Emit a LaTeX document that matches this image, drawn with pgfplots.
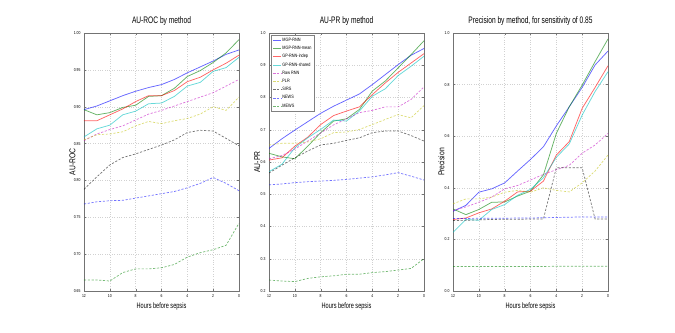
\documentclass[border=0pt]{standalone}
\usepackage{fontspec}
\setmainfont{Liberation Sans}[FakeStretch=0.8]
\newfontfamily\condfont{Liberation Sans}[FakeStretch=0.7]
\usepackage{pgfplots}
\pgfplotsset{compat=1.18}
\usepackage{pgfplotstable}

% columns: hours, MGP-RNN, MGP-RNN-mean, GP-RNN-indep, GP-RNN-shared, Raw RNN, PLR, SIRS, NEWS, MEWS
\pgfplotstableread{
h mgp mean indep shared raw plr sirs news mews
12 0.896 0.896 0.881 0.859 0.854 0.855 0.788 0.768 0.665
11 0.901 0.889 0.881 0.870 0.863 0.862 0.805 0.771 0.665
10 0.908 0.892 0.889 0.875 0.869 0.863 0.821 0.7725 0.6635
9 0.915 0.899 0.897 0.889 0.874 0.866 0.831 0.773 0.675
8 0.921 0.902 0.907 0.894 0.882 0.874 0.836 0.776 0.680
7 0.926 0.914 0.915 0.904 0.890 0.880 0.842 0.779 0.680
6 0.930 0.915 0.915 0.905 0.895 0.877 0.848 0.782 0.6815
5 0.937 0.925 0.922 0.914 0.901 0.881 0.855 0.785 0.686
4 0.946 0.941 0.934 0.928 0.907 0.884 0.865 0.790 0.696
3 0.954 0.949 0.940 0.933 0.913 0.890 0.868 0.796 0.702
2 0.962 0.960 0.950 0.948 0.919 0.900 0.867 0.804 0.706
1 0.971 0.973 0.959 0.953 0.928 0.895 0.857 0.796 0.712
0 0.977 0.991 0.970 0.967 0.937 0.913 0.847 0.786 0.742
}\rocdata

\pgfplotstableread{
h mgp mean indep shared raw plr sirs news mews
12 0.642 0.627 0.606 0.570 0.610 0.653 0.566 0.529 0.234
11 0.672 0.616 0.613 0.593 0.620 0.658 0.590 0.532 0.231
10 0.699 0.610 0.649 0.644 0.640 0.658 0.613 0.536 0.229
9 0.725 0.649 0.677 0.675 0.665 0.662 0.634 0.539 0.239
8 0.751 0.691 0.716 0.701 0.690 0.672 0.653 0.541 0.244
7 0.773 0.727 0.744 0.730 0.715 0.691 0.658 0.543 0.247
6 0.792 0.734 0.758 0.727 0.734 0.693 0.667 0.546 0.252
5 0.811 0.763 0.771 0.758 0.753 0.701 0.675 0.550 0.252
4 0.840 0.820 0.809 0.804 0.760 0.716 0.691 0.554 0.257
3 0.871 0.851 0.845 0.827 0.771 0.732 0.696 0.560 0.260
2 0.902 0.892 0.878 0.868 0.771 0.747 0.696 0.567 0.265
1 0.931 0.933 0.907 0.897 0.794 0.737 0.682 0.556 0.270
0 0.952 0.976 0.936 0.928 0.833 0.775 0.665 0.544 0.300
}\prdata

\pgfplotstableread{
h mgp mean indep shared raw plr sirs news mews
12 0.309 0.318 0.277 0.227 0.312 0.338 0.273 0.281 0.095
11 0.332 0.296 0.283 0.277 0.326 0.357 0.274 0.281 0.095
10 0.383 0.316 0.303 0.274 0.344 0.357 0.276 0.282 0.095
9 0.396 0.344 0.318 0.316 0.364 0.364 0.277 0.282 0.095
8 0.419 0.345 0.348 0.335 0.396 0.383 0.278 0.282 0.095
7 0.465 0.368 0.384 0.371 0.409 0.390 0.278 0.283 0.095
6 0.510 0.387 0.387 0.394 0.430 0.383 0.279 0.283 0.095
5 0.559 0.450 0.426 0.439 0.452 0.400 0.279 0.284 0.095
4 0.640 0.611 0.527 0.518 0.470 0.390 0.478 0.285 0.096
3 0.714 0.714 0.579 0.570 0.487 0.384 0.478 0.286 0.096
2 0.789 0.798 0.708 0.682 0.534 0.419 0.478 0.287 0.096
1 0.876 0.889 0.789 0.773 0.566 0.465 0.279 0.287 0.096
0 0.930 0.977 0.873 0.850 0.611 0.527 0.279 0.287 0.096
}\precdata

\definecolor{cb}{rgb}{0,0,1}
\definecolor{cg}{rgb}{0,0.5,0}
\definecolor{cr}{rgb}{1,0,0}
\definecolor{cc}{rgb}{0,0.75,0.75}
\definecolor{cm}{rgb}{0.75,0,0.75}
\definecolor{cy}{rgb}{0.75,0.75,0}
\definecolor{ck}{rgb}{0,0,0}

\pgfplotsset{
  panel/.style={
    scale only axis, width=155bp, height=258bp, anchor=south west,
    xmin=0, xmax=12, x dir=reverse, xtick={0,2,...,12},
    grid=major, major grid style={dotted, black!18},
    axis line style={black!55, line width=0.9pt},
    tick style={black!55}, major tick length=2bp, tick align=inside,
    ticklabel style={font=\fontsize{4.3}{5}\selectfont},
    /pgf/number format/assume math mode=true,
    title style={font=\condfont\fontsize{9.5}{11}\selectfont, inner sep=1.5bp},
    xlabel style={font=\condfont\fontsize{8}{9}\selectfont, yshift=2bp},
    ylabel style={font=\fontsize{8.5}{9}\selectfont, at={(axis description cs:-0.075,0.5)}, anchor=center},
    xlabel={Hours before sepsis},
  },
  sol/.style={color=#1, opacity=0.6, line width=0.75pt},
  dsh/.style={color=#1, opacity=0.55, line width=0.7pt, dash pattern=on 2.2bp off 1.6bp},
}

\newcommand{\allseries}[1]{%
  \addplot[sol=cb] table[x=h,y=mgp]{#1};
  \addplot[sol=cg] table[x=h,y=mean]{#1};
  \addplot[sol=cr] table[x=h,y=indep]{#1};
  \addplot[sol=cc] table[x=h,y=shared]{#1};
  \addplot[dsh=cm] table[x=h,y=raw]{#1};
  \addplot[dsh=cy] table[x=h,y=plr]{#1};
  \addplot[dsh=ck] table[x=h,y=sirs]{#1};
  \addplot[dsh=cb] table[x=h,y=news]{#1};
  \addplot[dsh=cg] table[x=h,y=mews]{#1};
}

\begin{document}
\begin{tikzpicture}
\useasboundingbox (0,0) rectangle (675bp,333bp);

\begin{axis}[panel, at={(84bp,42bp)}, title={AU-ROC by method}, ylabel={AU-ROC},
  ymin=0.65, ymax=1.0, ytick={0.65,0.70,...,1.001},
  yticklabel style={/pgf/number format/.cd, fixed, fixed zerofill, precision=2}]
\allseries{\rocdata}
\end{axis}

\begin{axis}[panel, at={(269bp,42bp)}, title={AU-PR by method}, ylabel={AU-PR},
  ymin=0.2, ymax=1.0, ytick={0.2,0.3,...,1.001},
  yticklabel style={/pgf/number format/.cd, fixed, fixed zerofill, precision=1},
  legend style={at={(0.012,0.992)}, anchor=north west, draw=black!50,
    font=\fontsize{4.8}{5.4}\selectfont, row sep=2.2bp, inner sep=2bp,
    nodes={inner sep=0.6bp}},
  legend cell align=left,
  legend image code/.code={\draw[#1] (0bp,0bp) -- (8bp,0bp);}]
\allseries{\prdata}
\legend{MGP-RNN, MGP-RNN-mean, GP-RNN-indep, GP-RNN-shared, Raw RNN, PLR, SIRS, NEWS, MEWS}
\end{axis}

\begin{axis}[panel, at={(453bp,42bp)}, title={Precision by method, for sensitivity of 0.85}, ylabel={Precision},
  ymin=0, ymax=1.0, ytick={0,0.2,...,1.001},
  yticklabel style={/pgf/number format/.cd, fixed, fixed zerofill, precision=1}]
\allseries{\precdata}
\end{axis}
\end{tikzpicture}
\end{document}
